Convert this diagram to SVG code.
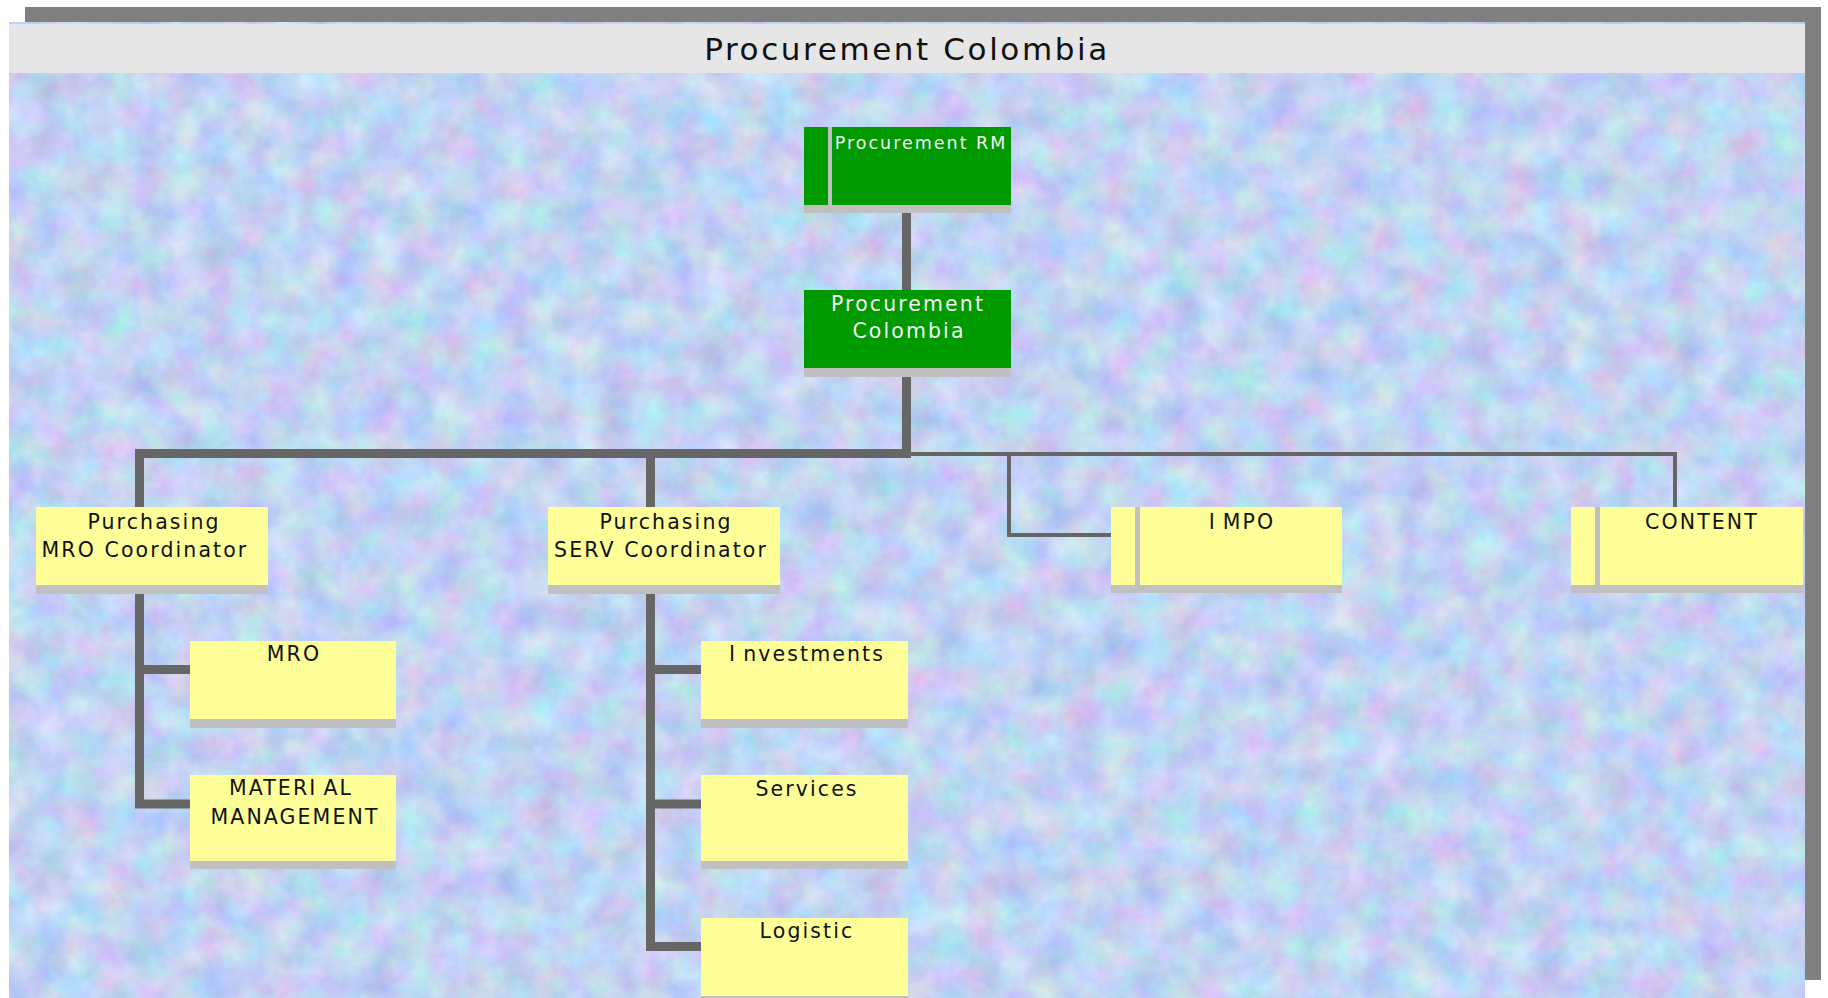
<svg xmlns="http://www.w3.org/2000/svg" width="1828" height="998" viewBox="0 0 1828 998">
<style>
.box{fill:#ffff99}
.gbox{fill:#009900}
.sh{fill:#c0c0c0}
.t{font-family:"DejaVu Sans","Liberation Sans",sans-serif;font-size:20.5px;letter-spacing:2.1px;fill:#111;text-anchor:middle}
.tw{fill:#f4f4f4}
.thick{fill:none;stroke:#666666;stroke-width:9;stroke-linejoin:miter;stroke-linecap:square}
.thin{fill:none;stroke:#666666;stroke-width:4;stroke-linejoin:miter}
</style>
<defs>
<filter id="tex" x="0" y="0" width="1" height="1" color-interpolation-filters="sRGB">
<feTurbulence type="fractalNoise" baseFrequency="0.03" numOctaves="4" seed="7"/>
<feColorMatrix type="matrix" values="0.32 0 0 0 0.6  0 0.28 0 0 0.69  0 0 0.16 0 0.87  0 0 0 0 1"/>
</filter>
</defs>
<rect x="0" y="0" width="1828" height="998" fill="#ffffff"/>
<rect x="25" y="7" width="1796" height="973" fill="#808080"/>
<rect x="9" y="22" width="1796" height="976" fill="#c8d6f5" filter="url(#tex)"/>
<g id="title">
<rect x="9" y="24" width="1796" height="49" fill="#e6e6e6"/>
<text x="907" y="60" class="t" style="font-size:31px;letter-spacing:2.6px">Procurement Colombia</text>
</g>
<g id="connectors">
<path class="thick" d="M906.5 205 V290"/>
<path class="thick" d="M906.5 368 V453.5"/>
<path class="thick" d="M139.5 507 V453.5 H906.5"/>
<path class="thick" d="M650.5 453.5 V507"/>
<path class="thin" d="M910 454 H1675 V507"/>
<path class="thin" d="M1009 454 V535 H1111"/>
<path class="thick" d="M139.5 585 V804 H190"/>
<path class="thick" d="M139.5 669.5 H190"/>
<path class="thick" d="M650.5 585 V946.5 H701"/>
<path class="thick" d="M650.5 669.5 H701"/>
<path class="thick" d="M650.5 804 H701"/>
</g>
<g id="node-rm">
<rect class="sh" x="804" y="135" width="207" height="78"/>
<rect class="gbox" x="804" y="127" width="207" height="78"/>
<rect class="sh" x="828" y="127" width="4" height="78"/>
<text x="921" y="149" class="t tw" style="font-size:17.5px;letter-spacing:2px">Procurement RM</text>
</g>
<g id="node-pc">
<rect class="sh" x="804" y="298" width="207" height="79"/>
<rect class="gbox" x="804" y="290" width="207" height="78"/>
<text x="908" y="311" class="t tw">Procurement</text>
<text x="909" y="338" class="t tw">Colombia</text>
</g>
<g id="node-mro-coord">
<rect class="sh" x="36" y="515" width="232" height="79"/>
<rect class="box" x="36" y="507" width="232" height="78"/>
<text x="154" y="529" class="t">Purchasing</text>
<text x="145" y="557" class="t">MRO Coordinator</text>
</g>
<g id="node-serv-coord">
<rect class="sh" x="548" y="515" width="232" height="79"/>
<rect class="box" x="548" y="507" width="232" height="78"/>
<text x="666" y="529" class="t">Purchasing</text>
<text x="661" y="557" class="t">SERV Coordinator</text>
</g>
<g id="node-impo">
<rect class="sh" x="1111" y="515" width="231" height="78"/>
<rect class="box" x="1111" y="507" width="231" height="78"/>
<rect class="sh" x="1135" y="507" width="5" height="78"/>
<text x="1242" y="529" class="t" dx="0 6">IMPO</text>
</g>
<g id="node-content">
<rect class="sh" x="1571" y="515" width="232" height="78"/>
<rect class="box" x="1571" y="507" width="232" height="78"/>
<rect class="sh" x="1595" y="507" width="5" height="78"/>
<text x="1702" y="529" class="t">CONTENT</text>
</g>
<g id="node-mro">
<rect class="sh" x="190" y="649" width="206" height="79"/>
<rect class="box" x="190" y="641" width="206" height="78"/>
<text x="294" y="661" class="t">MRO</text>
</g>
<g id="node-material">
<rect class="sh" x="190" y="783" width="206" height="86"/>
<rect class="box" x="190" y="775" width="206" height="86"/>
<text x="291" y="795" class="t" dx="0 0 0 0 0 0 6">MATERIAL</text>
<text x="295" y="824" class="t">MANAGEMENT</text>
</g>
<g id="node-investments">
<rect class="sh" x="701" y="649" width="207" height="79"/>
<rect class="box" x="701" y="641" width="207" height="78"/>
<text x="807" y="661" class="t" dx="0 6">Investments</text>
</g>
<g id="node-services">
<rect class="sh" x="701" y="783" width="207" height="86"/>
<rect class="box" x="701" y="775" width="207" height="86"/>
<text x="807" y="796" class="t">Services</text>
</g>
<g id="node-logistic">
<rect class="sh" x="701" y="926" width="207" height="78"/>
<rect class="box" x="701" y="918" width="207" height="78"/>
<text x="807" y="938" class="t">Logistic</text>
</g>
</svg>
